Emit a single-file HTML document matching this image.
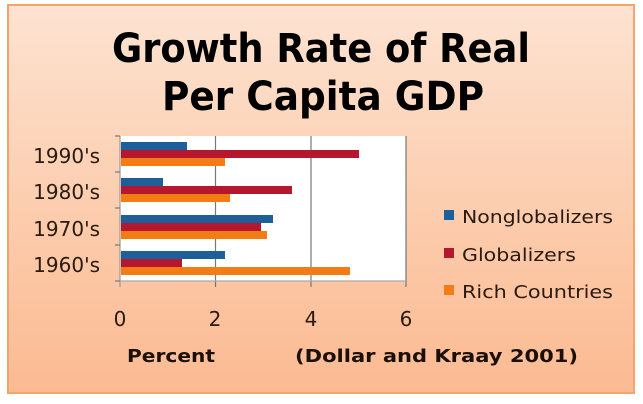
<!DOCTYPE html>
<html><head><style>body{margin:0;background:#fff}svg{display:block}</style></head><body>
<svg width="643" height="404" xmlns="http://www.w3.org/2000/svg" font-family="DejaVu Sans, Liberation Sans, sans-serif">
<defs>
<linearGradient id="bg" x1="0" y1="0" x2="0" y2="1">
<stop offset="0" stop-color="#fde3d2"/><stop offset="0.5" stop-color="#fcceb0"/><stop offset="1" stop-color="#fbba92"/></linearGradient>
</defs>
<rect x="8" y="5" width="626" height="388" fill="url(#bg)" stroke="#f2a56b" stroke-width="2"/>
<text x="321" y="62" font-size="40" font-weight="bold" text-anchor="middle" textLength="418" lengthAdjust="spacingAndGlyphs" fill="#000">Growth Rate of Real</text>
<text x="323" y="110" font-size="40" font-weight="bold" text-anchor="middle" textLength="322" lengthAdjust="spacingAndGlyphs" fill="#000">Per Capita GDP</text>
<rect x="120" y="136" width="286" height="145" fill="#fff"/>
<g stroke="#777" stroke-width="1.2">
<line x1="215.5" y1="136" x2="215.5" y2="287"/><line x1="311" y1="136" x2="311" y2="287"/><line x1="406" y1="136" x2="406" y2="287"/>
<line x1="120" y1="136" x2="120" y2="287" stroke="#999"/>
<line x1="115" y1="136" x2="120" y2="136"/><line x1="115" y1="172" x2="120" y2="172"/><line x1="115" y1="208" x2="120" y2="208"/><line x1="115" y1="245" x2="120" y2="245"/><line x1="115" y1="281" x2="120" y2="281"/>
<line x1="120" y1="281" x2="406" y2="281" stroke="#aaa"/>
</g>
<g>
<rect x="121" y="142" width="66" height="8" fill="#1f5f99"/><rect x="121" y="150" width="238" height="8" fill="#b5172e"/><rect x="121" y="158" width="104" height="8" fill="#f47c14"/>
<rect x="121" y="178" width="42" height="8" fill="#1f5f99"/><rect x="121" y="186" width="171" height="8" fill="#b5172e"/><rect x="121" y="194" width="109" height="8" fill="#f47c14"/>
<rect x="121" y="215" width="152" height="8" fill="#1f5f99"/><rect x="121" y="223" width="140" height="8" fill="#b5172e"/><rect x="121" y="231" width="146" height="8" fill="#f47c14"/>
<rect x="121" y="251" width="104" height="8" fill="#1f5f99"/><rect x="121" y="259" width="61" height="8" fill="#b5172e"/><rect x="121" y="267" width="229" height="8" fill="#f47c14"/>
</g>
<g font-size="20" fill="#2a1a10" text-anchor="end">
<text x="100" y="163">1990's</text><text x="100" y="199">1980's</text><text x="100" y="236">1970's</text><text x="100" y="272">1960's</text>
</g>
<g font-size="20" fill="#2a1a10" text-anchor="middle">
<text x="120" y="326">0</text><text x="215" y="326">2</text><text x="311" y="326">4</text><text x="406" y="326">6</text>
</g>
<text x="127" y="362" font-size="18" font-weight="bold" fill="#1a1008" textLength="88" lengthAdjust="spacingAndGlyphs">Percent</text>
<text x="295" y="362" font-size="18" font-weight="bold" fill="#1a1008" textLength="283" lengthAdjust="spacingAndGlyphs">(Dollar and Kraay 2001)</text>
<rect x="444" y="210" width="10" height="10" fill="#1f5f99"/>
<rect x="444" y="248" width="10" height="10" fill="#b5172e"/>
<rect x="444" y="285" width="10" height="10" fill="#f47c14"/>
<g font-size="18" fill="#2a1a10">
<text x="462" y="223" textLength="151" lengthAdjust="spacingAndGlyphs">Nonglobalizers</text>
<text x="462" y="261" textLength="114" lengthAdjust="spacingAndGlyphs">Globalizers</text>
<text x="462" y="298" textLength="151" lengthAdjust="spacingAndGlyphs">Rich Countries</text>
</g>
</svg>
</body></html>
